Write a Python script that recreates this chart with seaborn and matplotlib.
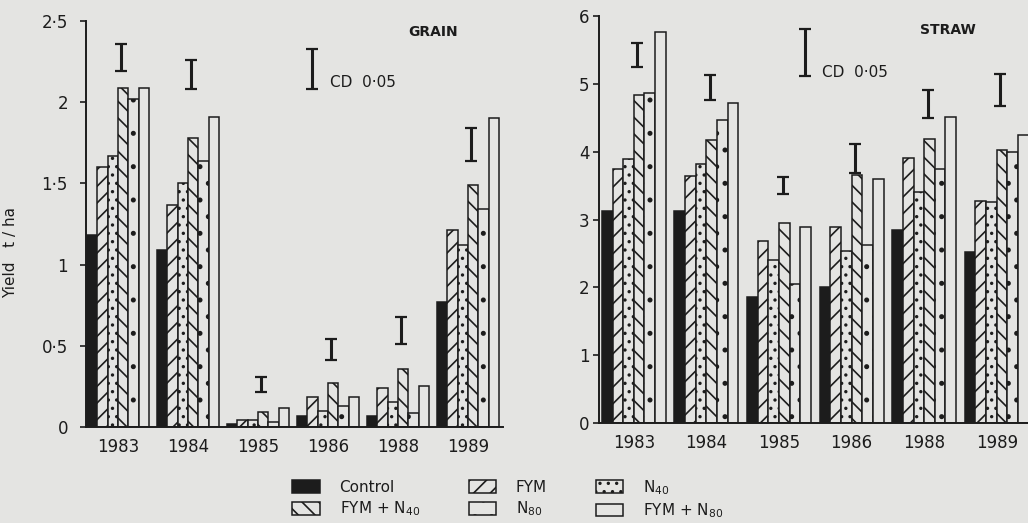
import numpy as np
import pandas as pd
import matplotlib
matplotlib.use("Agg")
import matplotlib.pyplot as plt
import seaborn as sns
from matplotlib.patches import Patch

# dados (t/ha)
anos = ["1983", "1984", "1985", "1986", "1988", "1989"]
tratamentos = ["Control", "FYM", "N40", "FYM + N40", "N80", "FYM + N80"]
rotulos_legenda = ["Control", "FYM", "N$_{40}$", "FYM + N$_{40}$", "N$_{80}$", "FYM + N$_{80}$"]

grao_control = [1.18, 1.09, 0.02, 0.065, 0.07, 0.77]
grao_fym = [1.60, 1.365, 0.045, 0.185, 0.24, 1.21]
grao_n40 = [1.67, 1.50, 0.045, 0.10, 0.155, 1.12]
grao_fym_n40 = [2.09, 1.78, 0.09, 0.27, 0.36, 1.49]
grao_n80 = [2.02, 1.64, 0.03, 0.13, 0.085, 1.34]
grao_fym_n80 = [2.09, 1.91, 0.12, 0.185, 0.25, 1.90]
grao_cd_baixo = [2.19, 2.08, 0.215, 0.41, 0.51, 1.64]
grao_cd_alto = [2.36, 2.26, 0.31, 0.54, 0.68, 1.84]

palha_control = [3.12, 3.13, 1.86, 2.01, 2.85, 2.52]
palha_fym = [3.75, 3.64, 2.69, 2.89, 3.91, 3.28]
palha_n40 = [3.89, 3.82, 2.41, 2.54, 3.40, 3.26]
palha_fym_n40 = [4.83, 4.17, 2.95, 3.66, 4.18, 4.03]
palha_n80 = [4.86, 4.46, 2.05, 2.62, 3.75, 3.99]
palha_fym_n80 = [5.76, 4.72, 2.89, 3.59, 4.51, 4.24]
palha_cd_baixo = [5.25, 4.76, 3.38, 3.69, 4.49, 4.68]
palha_cd_alto = [5.60, 5.13, 3.63, 4.11, 4.91, 5.15]

grao_ticks = [0, 0.5, 1, 1.5, 2, 2.5]
grao_ticklabels = ["0", "0·5", "1", "1·5", "2", "2·5"]
palha_ticks = [0, 1, 2, 3, 4, 5, 6]
palha_ticklabels = ["0", "1", "2", "3", "4", "5", "6"]

FUNDO = "#e4e4e2"
TINTA = "#1c1c1c"
hachuras = ["", "//", "..", "\\\\", ".", ""]
cores = {t: (TINTA if t == "Control" else FUNDO) for t in tratamentos}

sns.set_theme(style="white")
plt.rcParams['font.family'] = ['DejaVu Sans']
plt.rcParams['hatch.linewidth'] = 1.2
plt.rcParams['hatch.color'] = TINTA


def montar_df(series):
    linhas = []
    for trat, valores in zip(tratamentos, series):
        for ano, v in zip(anos, valores):
            linhas.append({"ano": ano, "tratamento": trat, "valor": v})
    return pd.DataFrame(linhas)


def desenhar_painel(ax, series, cd_baixo, cd_alto, ticks, ticklabels, xlim, ylim):
    df = montar_df(series)
    sns.barplot(data=df, x="ano", y="valor", hue="tratamento", order=anos,
                hue_order=tratamentos, palette=cores, saturation=1, width=0.88,
                gap=0, edgecolor=TINTA, linewidth=1.1, errorbar=None,
                legend=False, ax=ax)
    for container, h in zip(ax.containers, hachuras):
        for barra in container:
            barra.set_hatch(h)

    baixo = np.array(cd_baixo)
    alto = np.array(cd_alto)
    ax.errorbar(np.arange(len(anos)) + 0.05, (baixo + alto) / 2, yerr=(alto - baixo) / 2,
                fmt="none", ecolor=TINTA, elinewidth=2.2, capsize=4, capthick=1.6)

    ax.set_facecolor(FUNDO)
    ax.set_xlim(*xlim)
    ax.set_ylim(*ylim)
    ax.set_yticks(ticks)
    ax.set_yticklabels(ticklabels, fontsize=12, color=TINTA)
    ax.set_xticklabels(anos, fontsize=12, color=TINTA)
    ax.set_xlabel("")
    ax.set_ylabel("")
    for lado in ["top", "right"]:
        ax.spines[lado].set_visible(False)
    for lado in ["left", "bottom"]:
        ax.spines[lado].set_color(TINTA)
        ax.spines[lado].set_linewidth(1.4)
    ax.tick_params(axis="x", length=0, pad=8)
    ax.tick_params(axis="y", length=4, width=1.2, direction="out", color=TINTA, left=True)


fig = plt.figure(figsize=(10.28, 5.23), dpi=100, facecolor=FUNDO)
ax1 = fig.add_axes([86 / 1028, 96 / 523, 417 / 1028, 406 / 523])
ax2 = fig.add_axes([599 / 1028, 100 / 523, 429 / 1028, 407 / 523])

desenhar_painel(ax1, [grao_control, grao_fym, grao_n40, grao_fym_n40, grao_n80, grao_fym_n80],
                grao_cd_baixo, grao_cd_alto, grao_ticks, grao_ticklabels,
                (-0.457, 5.5), (0, 2.5))
desenhar_painel(ax2, [palha_control, palha_fym, palha_n40, palha_fym_n40, palha_n80, palha_fym_n80],
                palha_cd_baixo, palha_cd_alto, palha_ticks, palha_ticklabels,
                (-0.48, 5.43), (0, 6))
ax1.tick_params(axis="y", pad=9)
ax2.tick_params(axis="y", pad=3)

# barra de referencia CD 0,05
ax1.errorbar([2.77], [2.205], yerr=[0.125], fmt="none", ecolor=TINTA,
             elinewidth=2.2, capsize=4, capthick=1.6)
ax1.text(3.03, 2.12, "CD  0·05", fontsize=11, va="center", ha="left", color=TINTA)
ax1.text(4.14, 2.43, "GRAIN", fontsize=10, fontweight="bold", va="center", ha="left", color=TINTA)

ax2.errorbar([2.36], [5.46], yerr=[0.35], fmt="none", ecolor=TINTA,
             elinewidth=2.2, capsize=4, capthick=1.6)
ax2.text(2.59, 5.16, "CD  0·05", fontsize=11, va="center", ha="left", color=TINTA)
ax2.text(3.94, 5.80, "STRAW", fontsize=10, fontweight="bold", va="center", ha="left", color=TINTA)

ax1.set_ylabel("Yield   t / ha", fontsize=11, color=TINTA)
ax1.yaxis.set_label_coords(-0.163, 0.43)

# legenda em 3 colunas (preenchida por coluna)
alcas = [Patch(facecolor=cores[t], edgecolor=TINTA, hatch=h, linewidth=1.1, label=r)
         for t, h, r in zip(tratamentos, hachuras, rotulos_legenda)]
ordem = [0, 3, 1, 4, 2, 5]
fig.legend([alcas[i] for i in ordem], [rotulos_legenda[i] for i in ordem],
           loc="center", bbox_to_anchor=(0.494, 0.046), ncol=3, frameon=False,
           fontsize=11, handlelength=1.8, handleheight=0.9, handletextpad=1.3,
           columnspacing=3.2, labelspacing=0.3, labelcolor=TINTA)

fig.savefig("out.png", dpi=100, facecolor=FUNDO)
plt.close(fig)
